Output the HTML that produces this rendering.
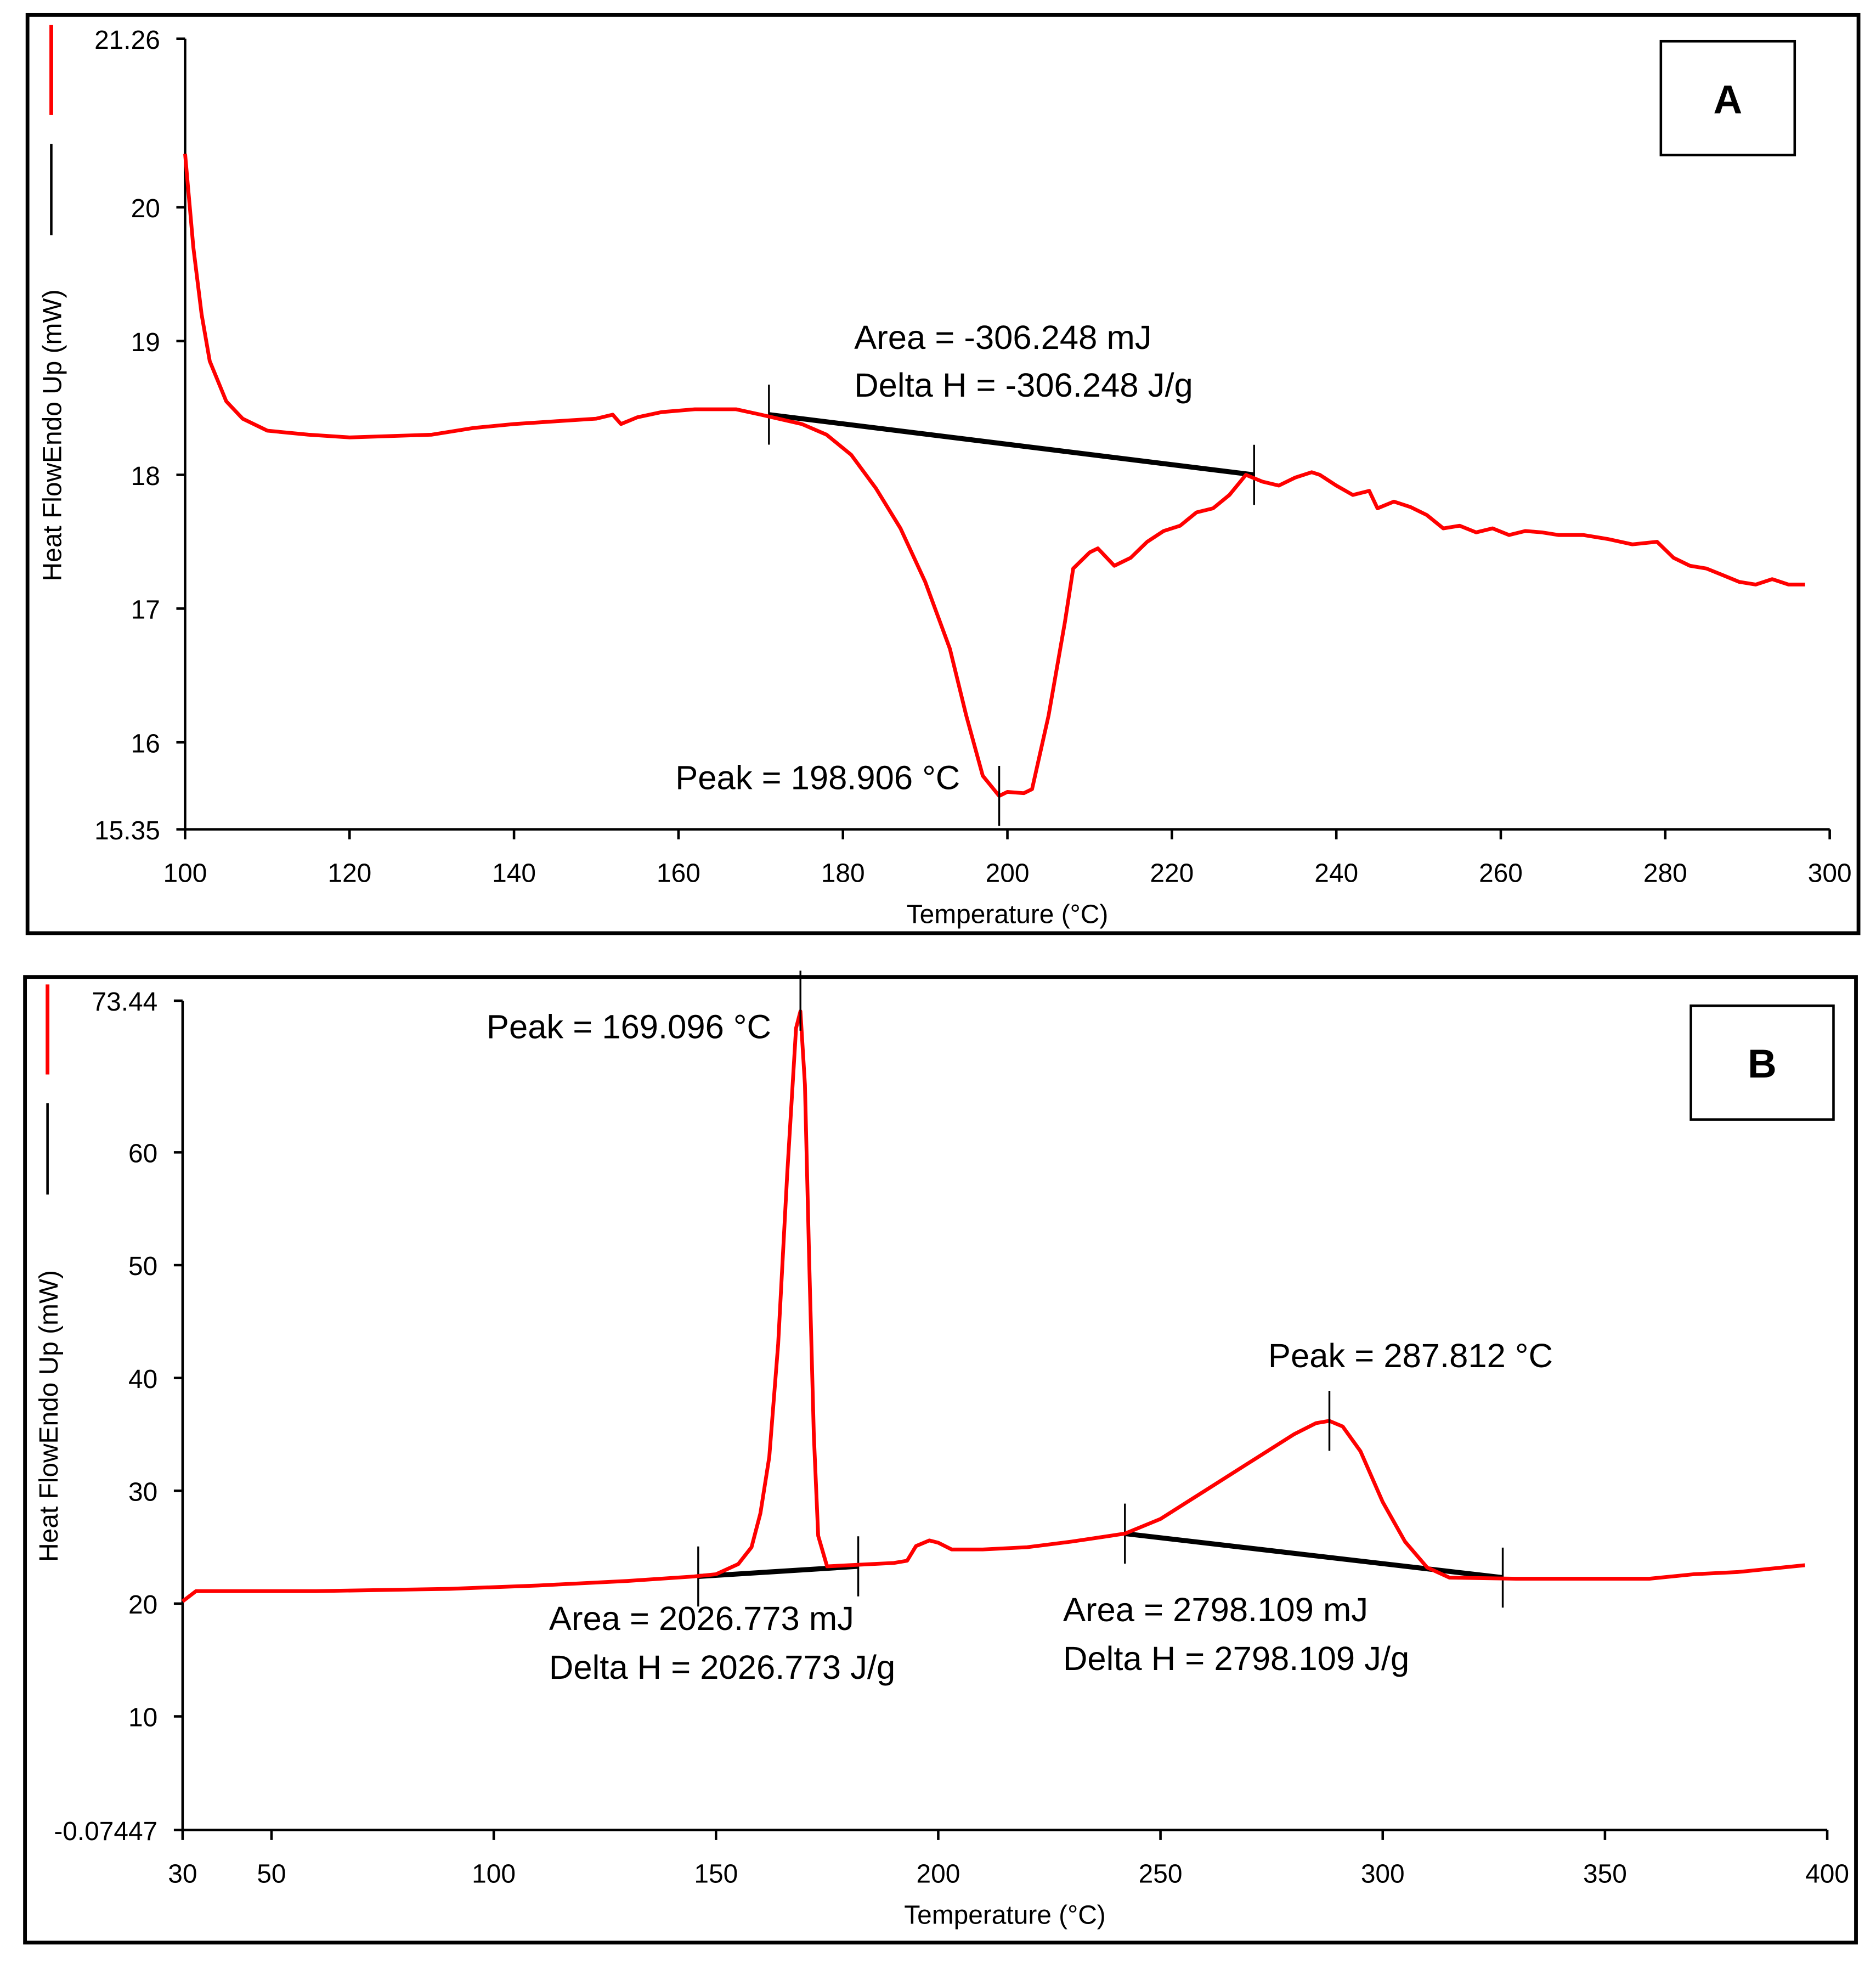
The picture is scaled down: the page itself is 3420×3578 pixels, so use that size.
<!DOCTYPE html>
<html><head><meta charset="utf-8"><style>
html,body{margin:0;padding:0;background:#fff;}
svg{display:block;}
text{font-family:"Liberation Sans",sans-serif;fill:#000;}
</style></head><body>
<svg id="chart" width="3420" height="3578" viewBox="0 0 1500 1569.3" xmlns="http://www.w3.org/2000/svg">
<rect x="0" y="0" width="1500" height="1569.3" fill="#fff"/>
</svg>
<script>
// ---- Panel A data ----
const aTemps = [100,101,102,103,105,107,110,115,120,130,135,140,145,150,152,153,155,158,162,167,170,175,178,181,184,187,190,193,195,197,199,200,202,203,205,207,208,210,211,213,215,217,219,221,223,225,227,229,231,233,235,237,238,240,242,244,245,247,249,251,253,255,257,259,261,263,265,267,270,273,276,279,281,283,285,287,289,291,293,295,297];
const aFlow = [20.4,19.7,19.2,18.85,18.55,18.42,18.33,18.3,18.28,18.3,18.35,18.38,18.4,18.42,18.45,18.38,18.43,18.47,18.49,18.49,18.45,18.38,18.3,18.15,17.9,17.6,17.2,16.7,16.2,15.75,15.6,15.63,15.62,15.65,16.2,16.9,17.3,17.42,17.45,17.32,17.38,17.5,17.58,17.62,17.72,17.75,17.85,18.0,17.95,17.92,17.98,18.02,18.0,17.92,17.85,17.88,17.75,17.8,17.76,17.7,17.6,17.62,17.57,17.6,17.55,17.58,17.57,17.55,17.55,17.52,17.48,17.5,17.38,17.32,17.3,17.25,17.2,17.18,17.22,17.18,17.18];
const aXTicks = [100,120,140,160,180,200,220,240,260,280,300];
const aYTicks = [21.26,20,19,18,17,16,15.35];
const aBaseT = [171,230];
const aBaseV = [18.45,18.0];
// ---- Panel B data ----
const bTemps = [30,33,40,60,90,110,130,145,150,155,158,160,162,164,166,168,169,170,171,172,173,175,180,190,193,195,198,200,203,210,220,230,237,242,250,260,270,280,285,288,291,295,300,305,310,315,330,360,370,380,395];
const bFlow = [20.2,21.1,21.1,21.1,21.3,21.6,22,22.4,22.6,23.5,25,28,33,43,58,71,72.5,66,50,35,26,23.3,23.4,23.6,23.8,25.1,25.6,25.4,24.8,24.8,25,25.5,25.9,26.2,27.5,30,32.5,35,36,36.2,35.7,33.5,29,25.5,23.2,22.3,22.2,22.2,22.6,22.8,23.4];
const bXTicks = [30,50,100,150,200,250,300,350,400];
const bYTicks = [73.44,60,50,40,30,20,10,-0.07447];
const bBase1T = [146,182], bBase1V = [22.4,23.3];
const bBase2T = [242,327], bBase2V = [26.2,22.3];

const NS = "http://www.w3.org/2000/svg";
const svg = document.getElementById('chart');
function mk(tag, attrs, parent, txt){const e=document.createElementNS(NS,tag);for(const k in attrs)e.setAttribute(k,attrs[k]);if(txt!==undefined)e.textContent=txt;(parent||svg).appendChild(e);return e;}

function panel(cfg){
  const g = mk('g',{});
  
  
  const f = cfg.frame;
  const fr = mk('rect',{x:f[0],y:f[1],width:f[2]-f[0],height:f[3]-f[1],fill:'none',stroke:'#000','stroke-width':3},g);
  
  
  const X = t => cfg.x0 + (t-cfg.xmin)/(cfg.xmax-cfg.xmin)*(cfg.x1-cfg.x0);
  const Y = v => cfg.yb + (v-cfg.ymin)/(cfg.ymax-cfg.ymin)*(cfg.yt-cfg.yb);
  // axes
  const ya = mk('line',{x1:cfg.x0,y1:cfg.yt,x2:cfg.x0,y2:cfg.yb,stroke:'#000','stroke-width':2},g);
  
  
  const xa = mk('line',{x1:cfg.x0,y1:cfg.yb,x2:cfg.x1,y2:cfg.yb,stroke:'#000','stroke-width':2},g);
  
  
  cfg.yTicks.forEach(v=>{
    mk('line',{x1:cfg.x0-7,y1:Y(v),x2:cfg.x0,y2:Y(v),stroke:'#000','stroke-width':2},g);
    const t = mk('text',{x:cfg.x0-20,y:Y(v)+8,'font-size':21,'text-anchor':'end'},g,String(v));
    
    
  });
  cfg.xTicks.forEach(v=>{
    mk('line',{x1:X(v),y1:cfg.yb,x2:X(v),y2:cfg.yb+8,stroke:'#000','stroke-width':2},g);
    const t = mk('text',{x:X(v),y:cfg.yb+42,'font-size':21,'text-anchor':'middle'},g,String(v));
    
    
  });
  const xl = mk('text',{x:(cfg.x0+cfg.x1)/2,y:cfg.yb+75,'font-size':21,'text-anchor':'middle'},g,'Temperature (°C)');
  
  
  const yl = mk('text',{x:0,y:0,'font-size':21,'text-anchor':'middle',transform:`translate(${cfg.legX+8},${cfg.ylabY}) rotate(-90)`},g,'Heat FlowEndo Up (mW)');
  
  
  const l1 = mk('line',{x1:cfg.legX,y1:cfg.legY,x2:cfg.legX,y2:cfg.legY+72,stroke:'#f00','stroke-width':3},g);
  
  
  const l2 = mk('line',{x1:cfg.legX,y1:cfg.legY+95,x2:cfg.legX,y2:cfg.legY+168,stroke:'#000','stroke-width':2},g);
  
  
  // label box
  const b = cfg.box;
  const br = mk('rect',{x:b[0],y:b[1],width:b[2]-b[0],height:b[3]-b[1],fill:'#fff',stroke:'#000','stroke-width':2},g);
  
  
  const bt = mk('text',{x:(b[0]+b[2])/2,y:(b[1]+b[3])/2+12,'font-size':32,'font-weight':'bold','text-anchor':'middle'},g,cfg.label);
  
  
  // baselines
  cfg.bases.forEach(bs=>{
    const bl = mk('line',{x1:X(bs[0][0]),y1:Y(bs[1][0]),x2:X(bs[0][1]),y2:Y(bs[1][1]),stroke:'#000','stroke-width':4},g);
    
    
    for(let i=0;i<2;i++){
      mk('line',{x1:X(bs[0][i]),y1:Y(bs[1][i])-24,x2:X(bs[0][i]),y2:Y(bs[1][i])+24,stroke:'#000','stroke-width':1.5},g);
    }
  });
  // curve
  const d = cfg.t.map((t,i)=>(i?'L':'M')+X(t).toFixed(1)+','+Y(cfg.v[i]).toFixed(1)).join(' ');
  const c = mk('path',{d:d,fill:'none',stroke:'#f00','stroke-width':3,'stroke-linejoin':'round'},g);
  
  
  cfg.peaks.forEach(p=>{
    mk('line',{x1:X(p[0]),y1:Y(p[1])-24,x2:X(p[0]),y2:Y(p[1])+24,stroke:'#000','stroke-width':1.5},g);
  });
  cfg.notes.forEach(n=>{
    const t = mk('text',{x:n[0],y:n[1],'font-size':27},g,n[2]);
    
    
  });
}

panel({name:'panel-a',label:'A',frame:[22,12,1486,746],x0:148,x1:1463,xmin:100,xmax:300,yt:31,yb:663,ymin:15.35,ymax:21.26,
  xTicks:aXTicks,yTicks:aYTicks,t:aTemps,v:aFlow,legX:41,legY:20,ylabY:348,box:[1328,33,1435,124],
  bases:[[aBaseT,aBaseV]],peaks:[[199,15.6]],
  notes:[[683,279,'Area = -306.248 mJ'],[683,317,'Delta H = -306.248 J/g'],[540,631,'Peak = 198.906 °C']]});

panel({name:'panel-b',label:'B',frame:[20,781,1484,1553],x0:146,x1:1461,xmin:30,xmax:400,yt:800,yb:1463,ymin:-0.07447,ymax:73.44,
  xTicks:bXTicks,yTicks:bYTicks,t:bTemps,v:bFlow,legX:38,legY:787,ylabY:1132,box:[1352,804,1466,895],
  bases:[[bBase1T,bBase1V],[bBase2T,bBase2V]],peaks:[[169,73.44],[288,36.2]],
  notes:[[389,830,'Peak = 169.096 °C'],[1014,1093,'Peak = 287.812 °C'],[439,1303,'Area = 2026.773 mJ'],[439,1342,'Delta H = 2026.773 J/g'],[850,1296,'Area = 2798.109 mJ'],[850,1335,'Delta H = 2798.109 J/g']]});
</script>
</body></html>
